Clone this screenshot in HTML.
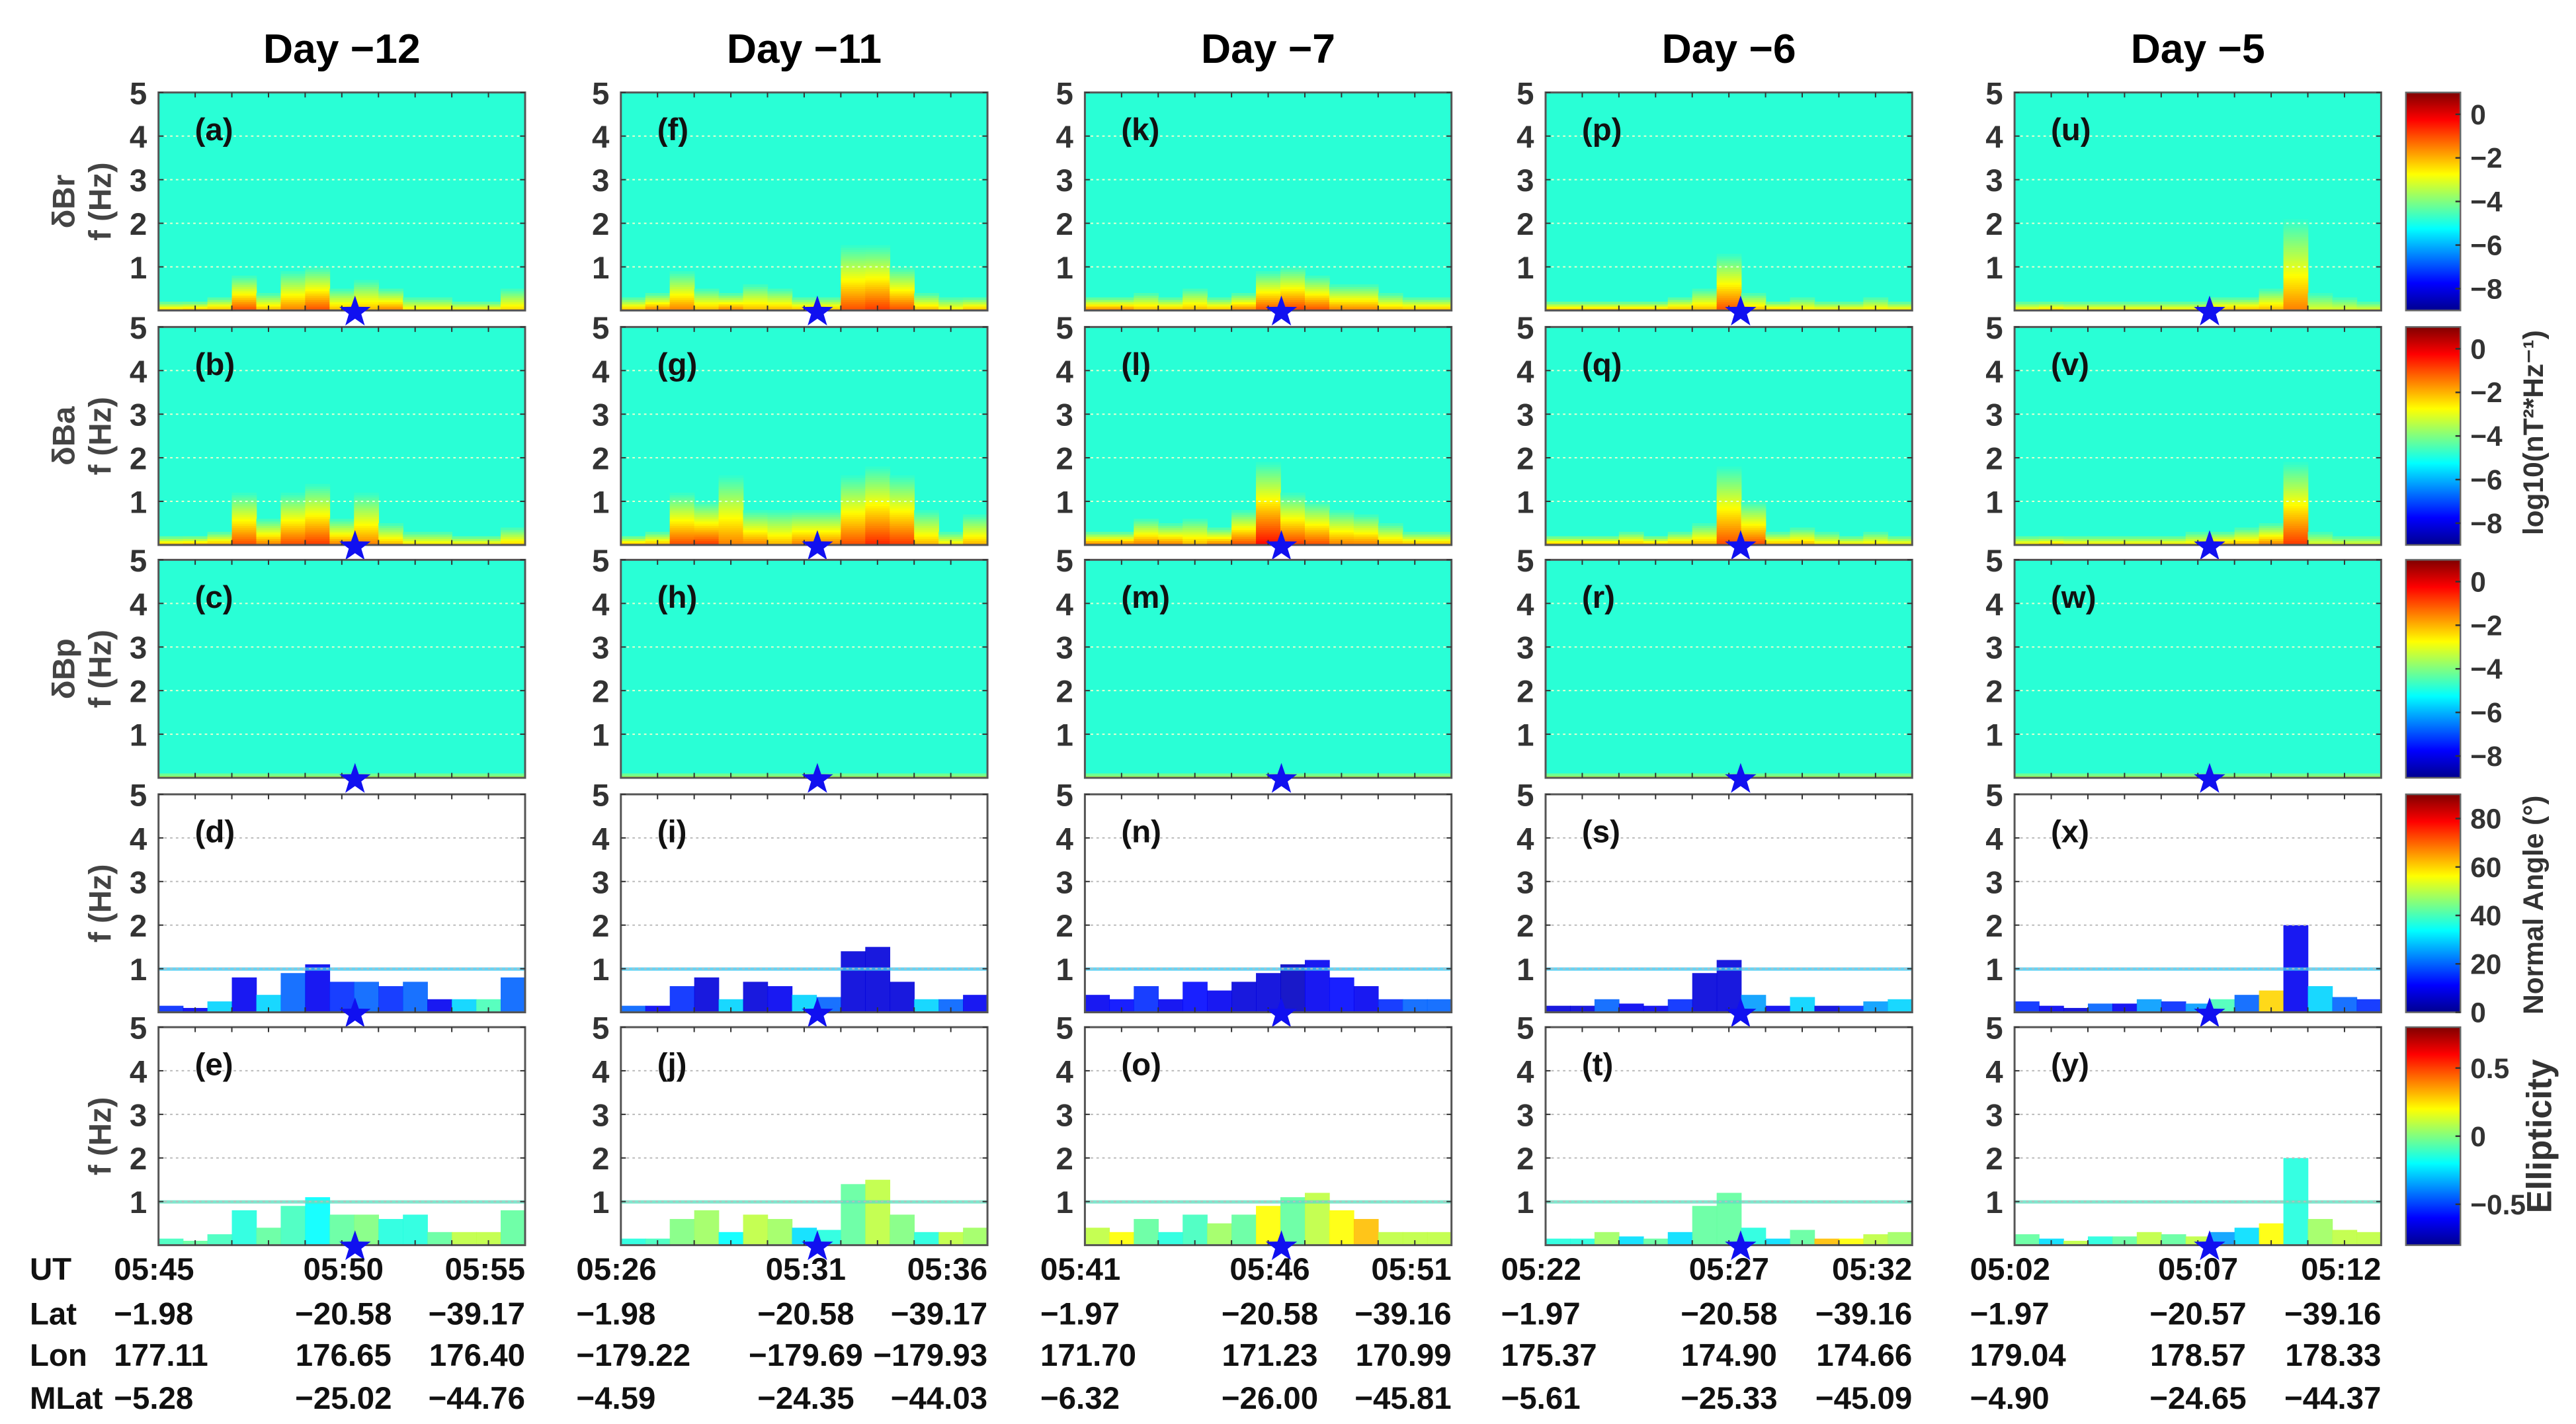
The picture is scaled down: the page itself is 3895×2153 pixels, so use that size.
<!DOCTYPE html>
<html><head><meta charset="utf-8"><style>
html,body{margin:0;padding:0;background:#fff;}
svg{display:block;}
text{font-family:"Liberation Sans",Arial,sans-serif;}
</style></head><body>
<svg id="fig" width="3895" height="2153" viewBox="0 0 1560 862.3" xmlns="http://www.w3.org/2000/svg">
<defs>
<linearGradient id="jet" x1="0" y1="1" x2="0" y2="0">
<stop offset="0" stop-color="#00008f"/><stop offset="0.125" stop-color="#0000ff"/>
<stop offset="0.375" stop-color="#00ffff"/><stop offset="0.5" stop-color="#80ff80"/><stop offset="0.625" stop-color="#ffff00"/>
<stop offset="0.875" stop-color="#ff0000"/><stop offset="1" stop-color="#800000"/>
</linearGradient>
</defs>
</svg>
<script>
// ---------- data ----------
const days = ["Day \u221212","Day \u221211","Day \u22127","Day \u22126","Day \u22125"];
const rowNames = ["\u03b4Br","\u03b4Ba","\u03b4Bp","",""];
const letters = [["a","b","c","d","e"],["f","g","h","i","j"],["k","l","m","n","o"],["p","q","r","s","t"],["u","v","w","x","y"]];
const brHeight = [
 [0.2,0.2,0.3,0.8,0.4,0.9,1.0,0.5,0.7,0.5,0.3,0.3,0.2,0.2,0.5],
 [0.3,0.4,0.9,0.5,0.4,0.6,0.5,0.3,0.3,1.5,1.5,1.0,0.4,0.3,0.3],
 [0.3,0.3,0.4,0.3,0.5,0.3,0.4,0.9,1.0,0.8,0.6,0.6,0.4,0.3,0.3],
 [0.2,0.2,0.2,0.2,0.2,0.3,0.5,1.3,0.4,0.2,0.3,0.2,0.2,0.3,0.2],
 [0.2,0.2,0.2,0.2,0.2,0.2,0.2,0.2,0.3,0.3,0.5,2.1,0.4,0.3,0.2]];
const brPeak = [
 [-2.2,-2,-2,-1,-2,-1.5,-1,-2,-2,-1.5,-2.5,-2.5,-2.5,-2.5,-2.3],
 [-2,-1.5,-1.5,-2,-1.5,-2,-2,-2,-2,-1,-0.8,-1,-2,-2.5,-2],
 [-1.5,-1.5,-2,-2,-2,-2,-1.5,-1,-0.8,-1,-1.5,-1.5,-2,-2,-2],
 [-2,-2,-2,-2,-2,-2,-2,-1,-2,-2,-2.5,-2.5,-2.5,-2.5,-2.5],
 [-2.5,-2.2,-2.5,-2.5,-2.5,-2.5,-2.5,-2.5,-2,-2,-2,-1.5,-3,-3,-3]];
const baHeight = [
 [0.2,0.2,0.3,1.2,0.6,1.2,1.4,0.6,1.2,0.5,0.3,0.3,0.2,0.2,0.4],
 [0.2,0.3,1.2,1.0,1.6,0.8,0.8,0.8,0.8,1.6,1.8,1.6,0.8,0.3,0.7],
 [0.3,0.3,0.6,0.5,0.6,0.4,0.8,1.9,1.2,1.0,0.8,0.7,0.5,0.3,0.3],
 [0.2,0.2,0.2,0.3,0.2,0.3,0.5,1.8,1.0,0.3,0.4,0.3,0.2,0.3,0.2],
 [0.2,0.2,0.2,0.2,0.2,0.2,0.2,0.3,0.3,0.4,0.5,1.9,0.3,0.2,0.2]];
const baPeak = [
 [-2.2,-2,-2,-1,-1.5,-1,-0.8,-1.5,-1.5,-2,-2.5,-2.5,-2.5,-2.5,-2.3],
 [-2,-2,-1,-0.8,-1.5,-1.5,-2,-1.5,-1.5,-1,-0.6,-0.8,-2,-2.5,-2],
 [-1.5,-1.5,-1.5,-1.5,-2,-1.5,-1,-0.3,-0.8,-1,-1.5,-1.5,-2,-2,-2],
 [-2,-2,-2,-2,-2,-2,-2,-1,-1,-2,-2,-2.5,-2.5,-2.5,-2.5],
 [-2.5,-2.2,-2.5,-2.5,-2.5,-2.5,-2.5,-2.5,-2,-2,-1.5,-0.8,-3,-3,-3]];
const bpHeight = [0.1,0.1,0.1,0.1,0.1];
const bpPeak = [-3.5,-3.5,-3.5,-3.5,-3.5];
const bgPower = -4.85;
const polHeight = [
 [0.15,0.1,0.25,0.8,0.4,0.9,1.1,0.7,0.7,0.6,0.7,0.3,0.3,0.3,0.8],
 [0.15,0.15,0.6,0.8,0.3,0.7,0.6,0.4,0.35,1.4,1.5,0.7,0.3,0.3,0.4],
 [0.4,0.3,0.6,0.3,0.7,0.5,0.7,0.9,1.1,1.2,0.8,0.6,0.3,0.3,0.3],
 [0.15,0.15,0.3,0.2,0.15,0.3,0.9,1.2,0.4,0.15,0.35,0.15,0.15,0.25,0.3],
 [0.25,0.15,0.1,0.2,0.2,0.3,0.25,0.2,0.3,0.4,0.5,2.0,0.6,0.35,0.3]];
const angleMean = [
 [15,10,30,10,30,20,10,15,20,15,20,10,30,40,20],
 [20,10,15,8,30,8,10,30,20,8,8,8,30,20,10],
 [10,12,15,10,12,10,8,8,6,10,12,10,15,20,20],
 [8,8,20,10,10,15,8,8,25,10,30,8,15,25,30],
 [15,10,8,20,10,25,15,25,40,20,60,10,30,20,15]];
const ellipMean = [
 [-0.1,-0.05,-0.1,-0.15,-0.05,-0.1,-0.2,-0.05,0.0,-0.15,-0.15,-0.05,0.1,0.1,-0.05],
 [-0.15,-0.1,0.0,0.05,-0.2,0.1,0.05,-0.25,-0.15,-0.05,0.1,0.0,-0.15,0.1,0.05],
 [0.1,0.2,-0.05,-0.15,-0.1,0.05,-0.05,0.2,-0.05,0.1,0.2,0.3,0.1,0.1,0.1],
 [-0.15,-0.15,0.05,-0.25,-0.05,-0.25,-0.05,-0.05,-0.15,-0.25,-0.05,0.3,0.2,0.1,0.05],
 [-0.05,-0.25,0.1,-0.15,-0.05,0.1,-0.05,0.1,-0.35,-0.25,0.2,-0.15,0.05,0.1,0.1]];
const ut = [["05:45","05:50","05:55"],["05:26","05:31","05:36"],["05:41","05:46","05:51"],["05:22","05:27","05:32"],["05:02","05:07","05:12"]];
const lat = [["\u22121.98","\u221220.58","\u221239.17"],["\u22121.98","\u221220.58","\u221239.17"],["\u22121.97","\u221220.58","\u221239.16"],["\u22121.97","\u221220.58","\u221239.16"],["\u22121.97","\u221220.57","\u221239.16"]];
const lon = [["177.11","176.65","176.40"],["\u2212179.22","\u2212179.69","\u2212179.93"],["171.70","171.23","170.99"],["175.37","174.90","174.66"],["179.04","178.57","178.33"]];
const mlat = [["\u22125.28","\u221225.02","\u221244.76"],["\u22124.59","\u221224.35","\u221244.03"],["\u22126.32","\u221226.00","\u221245.81"],["\u22125.61","\u221225.33","\u221245.09"],["\u22124.90","\u221224.65","\u221244.37"]];
const starBin = [5.36,5.36,5.36,5.32,5.32]; // star position in tenths of the time window
const powTicks = [0,-2,-4,-6,-8];
const angTicks = [0,20,40,60,80];
const ellTicks = [0.5,0,-0.5];
const freqTicks = [1,2,3,4,5];

// ---------- geometry ----------
const NS="http://www.w3.org/2000/svg";
const svg=document.getElementById('fig');
const colLeft=[96,376,657,936,1220], PW=222;
const rowTop=[56,198,339,481,622], PH=132;
const NB=15;
const ranges=[[-9,1],[-9,1],[-9,1],[0,90],[-0.8,0.8]];
function el(tag,attrs,parent){const e=document.createElementNS(NS,tag);for(const k in attrs)e.setAttribute(k,attrs[k]);(parent||svg).appendChild(e);return e;}
function jet(p){p=Math.max(0,Math.min(1,p));
 const r=Math.max(0,Math.min(1,1.5-Math.abs(4*p-3))),g=Math.max(0,Math.min(1,1.5-Math.abs(4*p-2))),b=Math.max(0,Math.min(1,1.5-Math.abs(4*p-1)));
 return `rgb(${Math.round(r*255)},${Math.round(g*255)},${Math.round(b*255)})`;}
function yScale(r,f){return rowTop[r]+PH-f/5*PH;}
function xScale(c,i){return colLeft[c]+i*PW/NB;}
function cScale(r,v){const [a,b]=ranges[r];return (v-a)/(b-a);}
function starX(c){return colLeft[c]+starBin[c]/10*PW;}

days.forEach((d,c)=>{const t=el('text',{x:colLeft[c]+PW/2,y:38,'text-anchor':'middle','font-size':25,'font-weight':'bold',fill:'#000'});t.textContent=d;
 
 });

for(let r=0;r<5;r++){
 const g=el('g',{});
 
 
 const cy=rowTop[r]+PH/2;
 if(rowNames[r]){const t=el('text',{x:0,y:0,transform:`translate(45,${cy}) rotate(-90)`,'text-anchor':'middle','font-size':19,'font-weight':'bold',fill:'#444'},g);t.textContent=rowNames[r];}
 const t2=el('text',{x:0,y:0,transform:`translate(67,${cy}) rotate(-90)`,'text-anchor':'middle','font-size':19,'font-weight':'bold',fill:'#444'},g);t2.textContent="f (Hz)";

 for(let c=0;c<5;c++){
  const pg=el('g',{});
  
  
  const L=colLeft[c],T=rowTop[r];
  if(r<3){
   el('rect',{x:L,y:T,width:PW,height:PH,fill:jet(cScale(r,bgPower))},pg);
   const H = r===0?brHeight[c]:r===1?baHeight[c]:null;
   const P = r===0?brPeak[c]:r===1?baPeak[c]:null;
   for(let i=0;i<NB;i++){
    const h = H?H[i]:bpHeight[c], pk = P?P[i]:bpPeak[c];
    const nb=Math.max(1,Math.round(h/0.05));
    for(let k=0;k<nb;k++){
     const f0=k*0.05, v=pk+(bgPower-pk)*(k/nb);
     const cell=el('rect',{x:xScale(c,i),y:yScale(r,f0+0.05),width:PW/NB+0.3,height:0.05/5*PH+0.3,fill:jet(cScale(r,v))},pg);
     
     
    }
   }
  } else {
   el('rect',{x:L,y:T,width:PW,height:PH,fill:'#fff'},pg);
   const M = r===3?angleMean[c]:ellipMean[c];
   for(let i=0;i<NB;i++){
    const h=polHeight[c][i];
    const bar=el('rect',{x:xScale(c,i),y:yScale(r,h),width:PW/NB+0.3,height:h/5*PH,fill:jet(cScale(r,M[i])),opacity:0.9},pg);
    
    
   }
   el('rect',{x:L,y:yScale(r,1.03),width:PW,height:2,fill:r===3?'#40c8f0':'#60e0c0',opacity:0.8},pg);
  }
  for(const f of [1,2,3,4]) el('line',{x1:L,x2:L+PW,y1:yScale(r,f),y2:yScale(r,f),stroke:r<3?'#e8ffd0':'#bbb','stroke-width':0.8,'stroke-dasharray':'1.5 2'},pg);
  el('rect',{x:L,y:T,width:PW,height:PH,fill:'none',stroke:'#555','stroke-width':1.2},pg);
  for(let i=1;i<10;i++){const x=L+i*PW/10;el('line',{x1:x,x2:x,y1:T+PH,y2:T+PH-3,stroke:'#333','stroke-width':0.8},pg);el('line',{x1:x,x2:x,y1:T,y2:T+3,stroke:'#333','stroke-width':0.8},pg);}
  freqTicks.forEach(f=>{const y=yScale(r,f);el('line',{x1:L,x2:L+3,y1:y,y2:y,stroke:'#333','stroke-width':0.8},pg);el('line',{x1:L+PW-3,x2:L+PW,y1:y,y2:y,stroke:'#333','stroke-width':0.8},pg);
   const t=el('text',{x:L-7,y:y+7,'text-anchor':'end','font-size':19,'font-weight':'bold',fill:'#333'},pg);t.textContent=f;});
  const lt=el('text',{x:L+22,y:T+29,'font-size':19,'font-weight':'bold',fill:'#111'},pg);lt.textContent='('+letters[c][r]+')';
  const sx=starX(c), sy=T+PH+1, R=10, ri=4;
  let pts=[];for(let k=0;k<10;k++){const a=-Math.PI/2+k*Math.PI/5,rr=k%2?ri:R;pts.push((sx+rr*Math.cos(a)).toFixed(1)+','+(sy+rr*Math.sin(a)).toFixed(1));}
  const st=el('polygon',{points:pts.join(' '),fill:'#1010f0'},pg);
  
  
 }
 const cb=el('g',{});
 
 
 el('rect',{x:1457,y:rowTop[r],width:33,height:PH,fill:'url(#jet)',stroke:'#666','stroke-width':1},cb);
 const ticks = r<3?powTicks:r===3?angTicks:ellTicks;
 ticks.forEach(v=>{const y=rowTop[r]+PH-cScale(r,v)*PH;
  el('line',{x1:1487,x2:1490,y1:y,y2:y,stroke:'#333'},cb);
  const t=el('text',{x:1496,y:y+6,'font-size':17,'font-weight':'bold',fill:'#333'},cb);t.textContent=(v<0?'\u2212':'')+Math.abs(v);});
}
[["log10(nT\u00b2*Hz\u207b\u00b9)",1540,262,17],["Normal Angle (\u00b0)",1540,548,17],["Ellipticity",1545,688,21]].forEach(([s,x,y,fs],i)=>{
 const t=el('text',{x:0,y:0,transform:`translate(${x},${y}) rotate(-90)`,'text-anchor':'middle','font-size':fs,'font-weight':'bold',fill:'#333'});t.textContent=s;
 
 });
const tableRows=[["UT",ut,775],["Lat",lat,802],["Lon",lon,827],["MLat",mlat,853]];
tableRows.forEach(([lab,arr,y])=>{
 const tl=el('text',{x:18,y:y,'font-size':19,'font-weight':'bold',fill:'#111'});tl.textContent=lab;
 
 
 for(let c=0;c<5;c++){
  const L=colLeft[c];
  const a=el('text',{x:L-27,y:y,'font-size':19,'font-weight':'bold',fill:'#111'});a.textContent=arr[c][0];
  const b=el('text',{x:starX(c)-7,y:y,'text-anchor':'middle','font-size':19,'font-weight':'bold',fill:'#111'});b.textContent=arr[c][1];
  const d=el('text',{x:L+PW,y:y,'text-anchor':'end','font-size':19,'font-weight':'bold',fill:'#111'});d.textContent=arr[c][2];
 }
});
</script>
</body></html>
